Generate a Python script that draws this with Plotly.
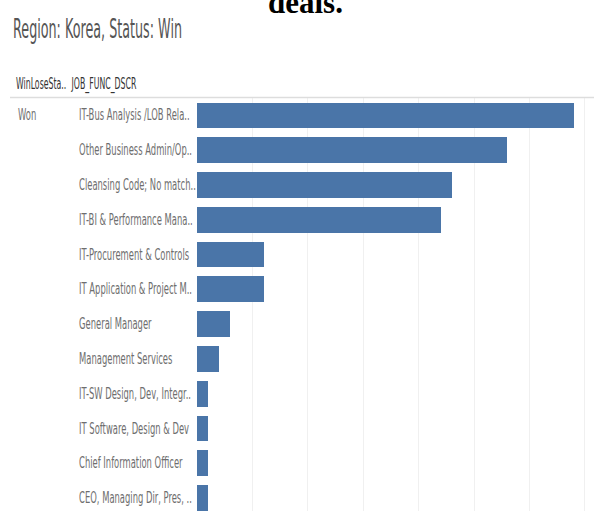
import json
import plotly.graph_objects as go

# Won deals in Korea by job function (count of deals)
job_functions = [
    "IT-Bus Analysis /LOB Rela..",
    "Other Business Admin/Op..",
    "Cleansing Code; No match..",
    "IT-BI & Performance Mana..",
    "IT-Procurement & Controls",
    "IT Application & Project M..",
    "General Manager",
    "Management Services",
    "IT-SW Design, Dev, Integr..",
    "IT Software, Design & Dev",
    "Chief Information Officer",
    "CEO, Managing Dir, Pres, ..",
]
deal_counts = [34, 28, 23, 22, 6, 6, 3, 2, 1, 1, 1, 1]
status_label = "Won"
header_labels = ["WinLoseSta..", "JOB_FUNC_DSCR"]
title_text = "Region: Korea, Status: Win"
caption_text = "deals."

W, H = 594, 511
ML, MT = 197, 98
plot_w, plot_h = W - ML, H - MT

BAR = "#4a75a8"
LABEL = "#6e6e6e"
SANS = "DejaVu Sans, sans-serif"

rows = list(range(len(job_functions)))

fig = go.Figure(
    go.Bar(
        x=deal_counts,
        y=rows,
        orientation="h",
        marker=dict(color=BAR, line=dict(width=0)),
        width=0.74,
        hoverinfo="skip",
    )
)

def px_x(px):
    return (px - ML) / plot_w

def px_y(py):
    return 1 - (py - MT) / plot_h

annotations = []
squeeze = []    # horizontal scale applied to each annotation's text (condensed look)
max_width = []  # widest the text may become after scaling (px), None = no limit

def add(text, x, y, yref, size, color, sx, maxw=None, family=SANS, xanchor="left"):
    annotations.append(dict(
        x=x, xref="paper", y=y, yref=yref, text=text,
        xanchor=xanchor, yanchor="middle", showarrow=False,
        font=dict(family=family, size=size, color=color),
    ))
    squeeze.append(sx)
    max_width.append(maxw)

# category labels, left aligned in their own column, kept clear of the bars
for r, name in zip(rows, job_functions):
    add(name, px_x(77), r, "y", 15, LABEL, 0.56, maxw=118)
add(status_label, px_x(16), 0, "y", 15, LABEL, 0.56)
# column headers
add(header_labels[0], px_x(14), px_y(84), "paper", 15, "#333333", 0.52)
add(header_labels[1], px_x(69), px_y(84), "paper", 15, "#333333", 0.52)
# sheet title
add(title_text, px_x(11), px_y(29), "paper", 26, "#555555", 0.49)
# caption fragment above the sheet
add("<b>" + caption_text + "</b>", px_x(305), px_y(2), "paper", 31, "#000000", 1.0,
    family="Liberation Serif, Times New Roman, serif", xanchor="center")

fig.update_layout(
    width=W, height=H,
    margin=dict(l=ML, r=0, t=MT, b=0, pad=0),
    paper_bgcolor="white", plot_bgcolor="white",
    showlegend=False,
    bargap=0,
    xaxis=dict(
        range=[0, 35.82], dtick=5, showgrid=True, gridcolor="#f0f0f0", gridwidth=1,
        zeroline=False, showticklabels=False, showline=False, ticks="",
        fixedrange=True,
    ),
    yaxis=dict(
        range=[11.37, -0.5], showgrid=False, zeroline=False, showticklabels=False,
        showline=False, ticks="", fixedrange=True,
    ),
    annotations=annotations,
    shapes=[dict(
        type="line", xref="paper", yref="paper",
        x0=px_x(10), x1=1, y0=px_y(97.5), y1=px_y(97.5),
        line=dict(color="#dddddd", width=1.5),
    )],
)

# Narrow the annotation text horizontally, keeping each text's left edge in place
post = """
var gd = document.getElementById('{plot_id}');
var sx = %s, maxw = %s;
gd.querySelectorAll('g.annotation').forEach(function (g) {
  var i = +g.getAttribute('data-index');
  var t = g.querySelector('text.annotation-text');
  if (!t || sx[i] === 1) return;
  var b = t.getBBox();
  var s = sx[i];
  if (maxw[i] !== null && b.width * s > maxw[i]) s = maxw[i] / b.width;
  var ax = b.x;
  t.setAttribute('transform',
    'translate(' + ax + ',0) scale(' + s + ',1) translate(' + (-ax) + ',0)');
});
""" % (json.dumps(squeeze), json.dumps(max_width))

fig.write_html("out.html", config={"displayModeBar": False, "staticPlot": True},
               post_script=post)
